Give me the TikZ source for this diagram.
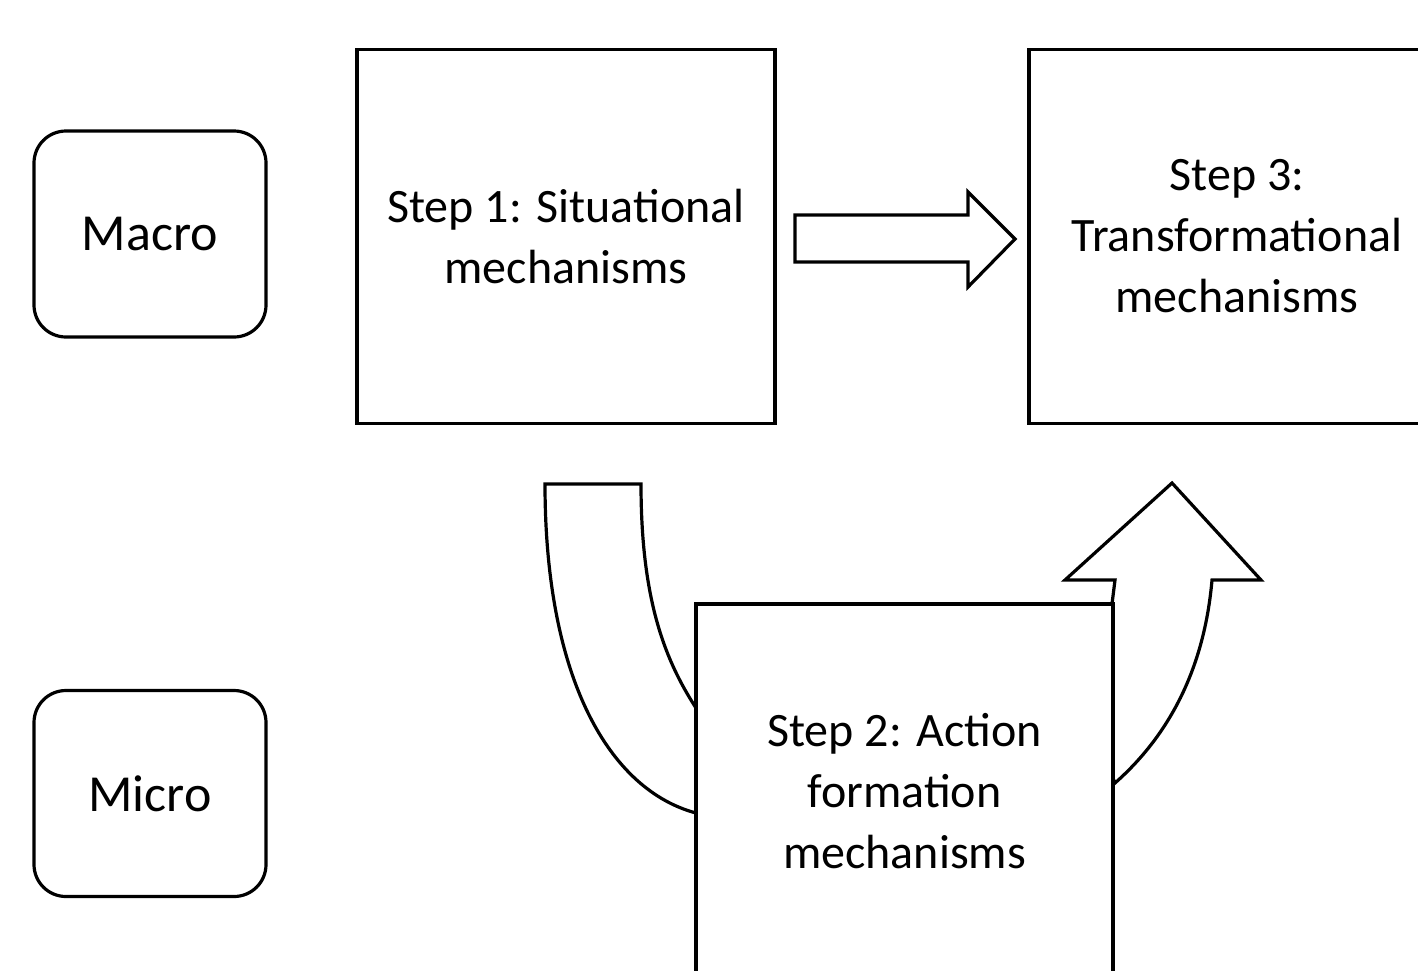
\documentclass[tikz,border=0pt]{standalone}
\usepackage{fontspec}
\setmainfont{Carlito}
\tikzset{
  level/.style={draw, line width=1.6pt, rounded corners=16pt, fill=white,
    minimum width=116pt, minimum height=103pt, align=center,
    font=\fontsize{26}{30.5}\selectfont},
  stepbox/.style={draw, line width=1.6pt, fill=white, align=center,
    minimum width=209pt, minimum height=187pt,
    font=\fontsize{24}{30.5}\selectfont},
  fatarrow/.style={draw, line width=1.6pt, fill=white}
}
\begin{document}
\begin{tikzpicture}[x=0.5pt, y=-0.5pt]
      \useasboundingbox (0,0) rectangle (1418,970) ;
      \clip (0,0) rectangle (1418,970) ;
      % block arrows first, boxes go on top
      \draw[fatarrow] (795,215) -- (968,215) -- (968,192) -- (1015,239)
        -- (968,287) -- (968,262) -- (795,262) -- cycle ;
      \draw[fatarrow] (545,484) -- (641,484)
        .. controls (641,600) and (665,660) .. (696,708)
        -- (750,760) -- (696,813)
        .. controls (610,790) and (545,680) .. (545,484) -- cycle ;
      \draw[fatarrow] (1212,580)
        .. controls (1205,660) and (1175,730) .. (1115,783)
        -- (1080,700) -- (1112,604) -- (1115,580) -- (1065,580)
        -- (1172,483) -- (1261,580) -- cycle ;
      \node[level] (macro) at (150,234) {Macro} ;
      \node[level] (micro) at (150,793.5) {Micro} ;
      \node[stepbox] (situational) at (566,236.5) {Step 1: Situational\\mechanisms} ;
      \node[stepbox, minimum width=208pt] (transformational) at (1237,236.5)
        {Step 3:\\Transformational\\mechanisms} ;
      \node[stepbox, minimum width=208.5pt] (action) at (904.5,791)
        {Step 2: Action\\formation\\mechanisms} ;
    \end{tikzpicture}
\end{document}
